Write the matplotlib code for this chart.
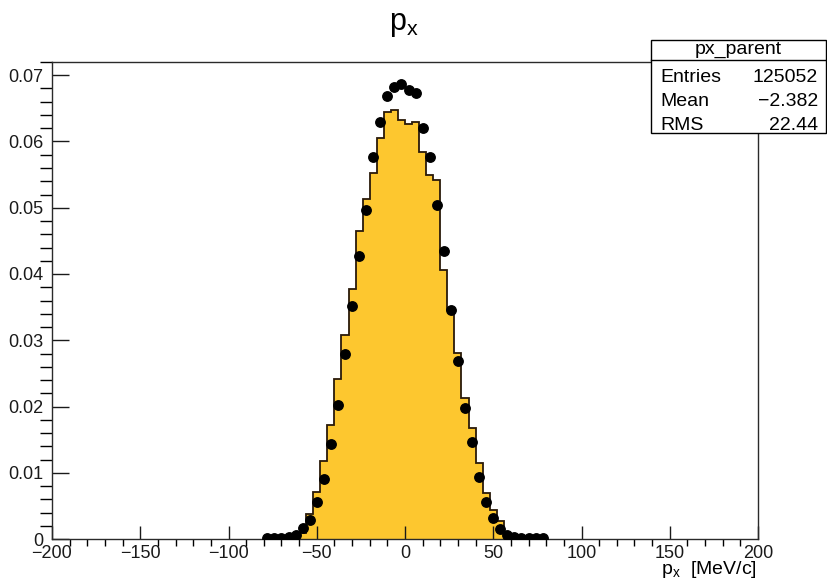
import numpy as np
import matplotlib
matplotlib.use("Agg")
from matplotlib import pyplot as plt
from matplotlib.ticker import MultipleLocator, FuncFormatter
from matplotlib.patches import Rectangle
from matplotlib.lines import Line2D

plt.rcParams['font.family'] = ['Liberation Sans', 'DejaVu Sans']
plt.rcParams['mathtext.fontset'] = 'custom'
plt.rcParams['mathtext.rm'] = 'Liberation Sans'
plt.rcParams['mathtext.it'] = 'Liberation Sans'

# parent px, normalised, 4 MeV/c bins starting at -60
bin_lo = -60
bin_w = 4
parent = [0.0009, 0.0037, 0.0071, 0.0117, 0.0172, 0.0241, 0.0308, 0.0378,
          0.0465, 0.0513, 0.0552, 0.0606, 0.0645, 0.0648, 0.0632, 0.0627,
          0.0630, 0.0584, 0.0549, 0.0542, 0.0406, 0.0345, 0.0281, 0.0213,
          0.0167, 0.0114, 0.0069, 0.0044, 0.0027, 0.0008]

# comparison sample, drawn as points at the bin centres
dot_x = [-78, -74, -70, -66, -62, -58, -54, -50, -46, -42, -38, -34, -30,
         -26, -22, -18, -14, -10, -6, -2, 2, 6, 10, 14, 18, 22, 26, 30,
         34, 38, 42, 46, 50, 54, 58, 62, 66, 70, 74, 78]
dot_y = [0.0001, 0.0001, 0.0001, 0.0003, 0.0006, 0.0016, 0.0029, 0.0056,
         0.0091, 0.0143, 0.0202, 0.0279, 0.0351, 0.0427, 0.0496, 0.0576,
         0.0630, 0.0668, 0.0683, 0.0687, 0.0677, 0.0673, 0.0620, 0.0576,
         0.0504, 0.0435, 0.0345, 0.0269, 0.0197, 0.0147, 0.0093, 0.0056,
         0.0031, 0.0015, 0.0006, 0.0003, 0.0001, 0.0001, 0.0001, 0.0001]

stats_name = "px_parent"
stats_rows = [("Entries", "125052"), ("Mean", "\u22122.382"), ("RMS", "22.44")]

W, H = 827, 587
fig = plt.figure(figsize=(W / 100, H / 100), dpi=100)
ax = fig.add_axes([52 / W, 1 - 539 / H, (758 - 52) / W, (539 - 62) / H])

edges = bin_lo + bin_w * np.arange(len(parent) + 1)
ax.stairs(parent, edges, fill=True, color='#fdc72f', zorder=1)
ax.stairs(parent, edges, color='#2a1a0a', lw=1.3, zorder=2)
ax.plot(dot_x, dot_y, 'o', color='black', ms=6.8, zorder=3)

ax.set_xlim(-200, 200)
ax.set_ylim(0, 0.072)
ax.xaxis.set_major_locator(MultipleLocator(50))
ax.xaxis.set_minor_locator(MultipleLocator(10))
ax.yaxis.set_major_locator(MultipleLocator(0.01))
ax.yaxis.set_minor_locator(MultipleLocator(0.002))
ax.yaxis.set_major_formatter(FuncFormatter(lambda v, p: '0' if abs(v) < 1e-9 else f'{v:.2f}'))
ax.xaxis.set_major_formatter(FuncFormatter(lambda v, p: f'{v:.0f}'.replace('-', '\u2212')))
ax.tick_params(direction='in', top=False, right=False, labelsize=13, colors='#1a1a1a')
ax.tick_params(axis='x', which='major', length=9.5, width=1, pad=4)
ax.tick_params(axis='x', which='minor', length=5, width=1)
ax.tick_params(axis='y', which='major', length=12, width=1, pad=6)
ax.tick_params(axis='y', which='minor', length=8.5, width=1)
for s in ax.spines.values():
    s.set_linewidth(1.0)
    s.set_color('#2a2a2a')

fig.text(404 / W, 1 - 24 / H, r'$\mathrm{p_x}$', ha='center', va='center', fontsize=22)
fig.text(757 / W, 1 - 569 / H, r'$\mathrm{p_x}$  [MeV/c]', ha='right', va='center', fontsize=14)

# statistics box
x0, x1 = 651 / W, 826 / W
y_top, y_bot, y_sep = 1 - 40 / H, 1 - 133 / H, 1 - 60 / H
fig.patches.append(Rectangle((x0, y_bot), x1 - x0, y_top - y_bot, transform=fig.transFigure,
                             facecolor='white', edgecolor='black', lw=1.0, zorder=5))
fig.lines.append(Line2D([x0, x1], [y_sep, y_sep], transform=fig.transFigure,
                        color='black', lw=1.0, zorder=6))
fig.text((x0 + x1) / 2, 1 - 50 / H, stats_name, ha='center', va='center', fontsize=14, zorder=7)
for i, (k, v) in enumerate(stats_rows):
    yy = 1 - (78 + 24 * i) / H
    fig.text(660 / W, yy, k, ha='left', va='center', fontsize=14, zorder=7)
    fig.text(818 / W, yy, v, ha='right', va='center', fontsize=14, zorder=7)

fig.savefig('out.png', dpi=100)
